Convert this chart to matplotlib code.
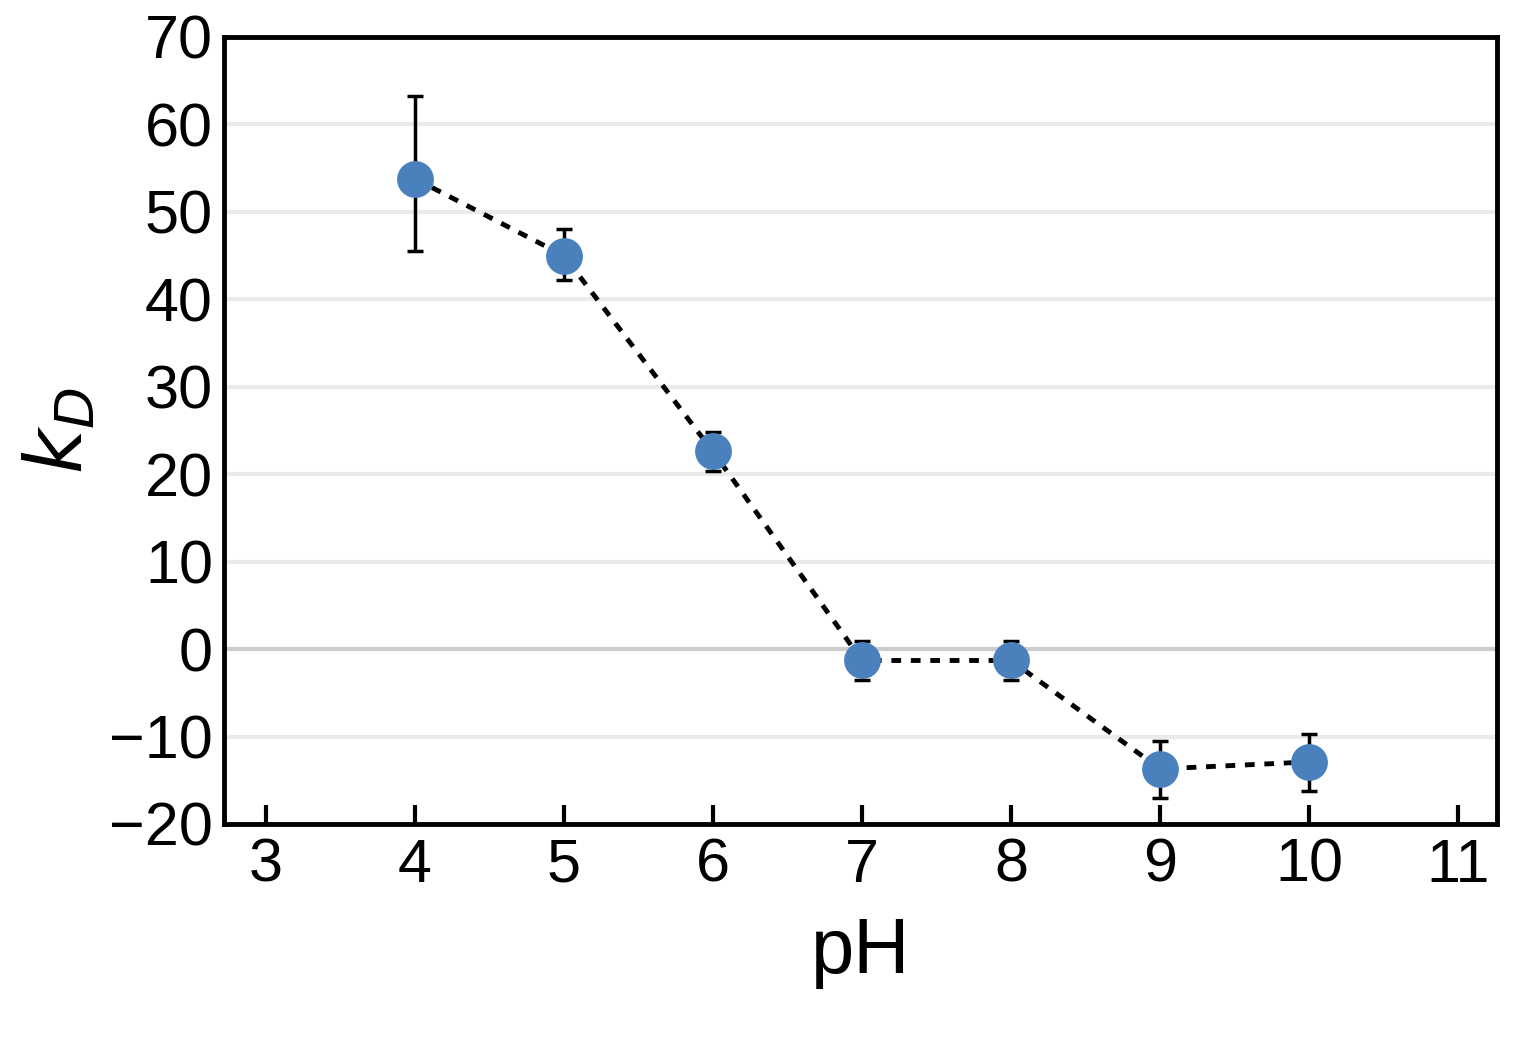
import matplotlib
matplotlib.use("Agg")
import matplotlib.pyplot as plt

ph = [4, 5, 6, 7, 8, 9, 10]
kd = [53.8, 45.0, 22.6, -1.3, -1.3, -13.7, -12.9]
err_up = [9.5, 3.0, 2.2, 2.2, 2.2, 3.2, 3.2]
err_lo = [8.3, 2.8, 2.2, 2.2, 2.2, 3.3, 3.3]
xticks = [3, 4, 5, 6, 7, 8, 9, 10, 11]
yticks = [-20, -10, 0, 10, 20, 30, 40, 50, 60, 70]

plt.rcParams['font.family'] = ['Liberation Sans', 'DejaVu Sans']
fig = plt.figure(figsize=(15.15, 10.5), dpi=100)
ax = fig.add_axes([224/1515, 1-824/1050, (1497-224)/1515, (824-37)/1050])
for y in yticks[1:-1]:
    ax.axhline(y, color='#cccccc' if y == 0 else '#ebebeb', lw=3, zorder=0)
ax.plot(ph, kd, ls=(0, (2, 2)), color='black', lw=3.5, zorder=1)
ax.errorbar(ph, kd, yerr=[err_lo, err_up], fmt='none', ecolor='black',
            elinewidth=2.5, capsize=6, capthick=2.5, zorder=2)
ax.scatter(ph, kd, s=650, color='#4a81bd', zorder=3)
ax.set_xlim(2.72, 11.26)
ax.set_ylim(-20, 70)
ax.set_xticks(xticks)
ax.set_yticks(yticks)
ax.tick_params(direction='in', labelsize=44, width=3, length=14, pad=10)
ax.tick_params(axis='y', length=0, pad=8)
for s in ax.spines.values():
    s.set_linewidth(3.5)
ax.set_xlabel('pH', fontsize=56, labelpad=15)
ax.set_ylabel('$\\mathit{k}_{\\mathit{D}}$', fontsize=56, labelpad=8)
fig.savefig('out.png', dpi=100)
